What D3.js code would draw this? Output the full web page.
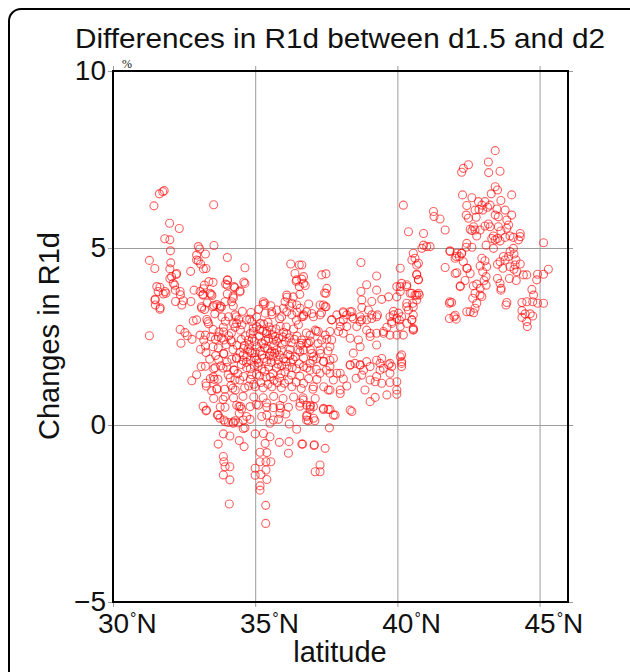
<!DOCTYPE html>
<html lang="en">
<head>
<meta charset="utf-8">
<title>Differences in R1d</title>
<script src="https://cdnjs.cloudflare.com/ajax/libs/d3/7.8.5/d3.min.js"></script>
<style>
  body { margin: 0; background: #fff; }
  svg { display: block; font-family: "Liberation Sans", Arial, Helvetica, sans-serif; }
</style>
</head>
<body>
<div id="chart"></div>
<script>
// chart text and ticks
const titleText = "Differences in R1d between d1.5 and d2";
const xLabel = "latitude";
const yLabel = "Changes in R1d";
const unitLabel = "%";
const latTicks = [30, 35, 40, 45];
const valTicks = [-5, 0, 5, 10];
const valTickLabels = ["\u22125", "0", "5", "10"];

// points: [latitude, change]
// south-west group, above ~2.5
const southPts = [
  [31.80,6.62],[31.75,6.59],[31.63,6.53],[31.44,6.19],[33.54,6.22],[31.99,5.70],[32.33,5.55],[31.82,5.26],
  [32.00,5.23],[33.55,5.07],[33.05,4.97],[32.02,4.92],[31.28,4.65],[32.94,4.80],[33.25,4.83],[34.02,4.73],
  [33.00,4.64],[31.47,4.42],[32.03,4.58],[32.00,4.41],[33.08,4.55],[32.73,4.34],[33.18,4.41],[33.27,4.42],
  [34.64,4.44],[32.22,4.25],[32.00,4.14],[33.37,4.05],[34.02,4.09],[34.64,4.00],[32.17,3.95],[34.02,3.95],
  [31.65,3.89],[34.25,3.91],[32.85,3.81],[33.18,3.85],[32.19,3.81],[34.47,3.79],[31.77,3.70],[31.86,3.72],
  [32.37,3.68],[33.16,3.67],[33.45,3.69],[34.02,3.70],[34.23,3.59],[31.48,3.53],[32.20,3.49],[32.47,3.51],
  [32.74,3.49],[33.31,3.45],[33.65,3.40],[31.49,3.39],[31.66,3.31],[32.42,3.39],[33.11,3.34],[33.51,3.34],
  [33.81,3.34],[34.23,3.36],[35.34,3.44],[33.00,5.04],[32.94,4.66],[32.06,4.19],[32.24,4.28],[31.54,3.91],
  [31.83,3.77],[32.12,4.00],[32.36,3.77],[33.06,3.77],[33.41,3.72],[33.12,3.30],[33.76,3.30],[33.94,3.48],
  [34.06,3.06],[34.29,3.11],[34.35,2.87],[34.70,2.97],[34.03,4.10],[34.17,3.48],[31.28,2.52],[31.59,3.77],
  [31.48,3.55],[31.65,3.27],[32.36,2.70],[32.39,2.31],[32.53,2.61],[32.61,2.52],[32.78,2.42],[32.82,2.94],
  [32.94,2.97],[33.06,2.54],[33.33,2.92],[33.08,2.14],[33.44,2.49],[33.70,2.49],[33.88,2.76],[34.33,3.06],
  [34.29,2.76],[34.14,2.40],[33.90,2.40]
];

// south-west group, lower part
const lowPts = [
  [33.10,1.65],[32.94,1.42],[32.77,1.25],[33.27,2.05],[33.70,2.18],[33.90,2.01],[33.53,1.36],[33.56,1.29],
  [33.59,1.62],[33.27,1.18],[33.47,0.97],[33.65,1.01],[33.29,0.42],[33.67,0.28],[33.90,0.14],[34.00,1.63],
  [34.18,1.86],[34.29,1.27],[33.94,0.80],[34.21,1.04],[34.27,1.55],[34.43,0.52],[34.44,0.33],[34.23,0.08],
  [34.06,0.07],[34.64,-0.08],[33.27,0.40],[33.70,0.28],[33.76,0.19],[33.94,0.09],[34.23,0.05],[34.58,-0.10],
  [35.00,-0.25],[35.29,-0.24],[35.52,-0.33],[33.88,-0.25],[34.11,-0.31],[33.70,-0.54],[34.44,-0.44],[34.61,-0.61],
  [35.85,-0.49],[36.19,-0.47],[36.64,-0.54],[37.08,-0.56],[37.46,-0.66],[35.35,-0.52],[36.17,-0.80],[35.17,-0.77],
  [35.41,-0.78],[33.88,-0.89],[33.90,-1.04],[33.94,-1.18],[34.11,-1.18],[33.88,-1.41],[34.11,-1.55],[35.17,-1.04],
  [35.38,-1.04],[35.55,-1.04],[35.00,-1.22],[35.38,-1.27],[35.00,-1.42],[35.41,-1.54],[35.20,-1.40],[35.17,-1.72],
  [35.17,-1.84],[37.28,-1.13],[37.11,-1.32],[37.28,-1.32],[34.09,-2.23],[35.37,-2.27],[35.37,-2.78],[38.40,0.38],
  [37.57,0.44],[37.81,0.28],[37.40,0.44],[36.81,0.24],[36.87,0.12],[37.10,0.12],[36.46,-0.12],[37.61,-0.08],
  [36.20,0.03],[35.87,0.33],[36.08,0.31],[35.64,0.14],[35.82,0.16],[34.58,0.14],[34.82,0.16],[34.70,0.24],
  [34.29,0.12],[34.40,0.06],[35.23,0.24],[35.41,0.28],[35.52,0.05],[33.94,0.50],[34.35,0.56],[34.52,0.45],
  [34.82,0.52],[35.11,0.56],[35.40,0.62],[35.64,0.49],[35.87,0.55],[36.17,0.50],[36.58,0.62],[36.81,0.56],
  [36.93,0.44],[36.82,0.28],[37.05,0.19],[36.67,-0.54],[37.07,-0.58],[37.63,0.44],[36.69,0.71],[36.93,0.52],
  [36.81,0.14],[37.05,0.52],[37.40,0.47],[37.75,0.28],[38.34,0.42]
];

// central dense group
const centralPts = [
  [33.21,3.95],[33.52,4.03],[33.96,3.98],[34.28,3.88],[34.60,4.04],[34.46,3.76],[34.22,3.64],[33.17,3.69],
  [33.48,3.66],[36.44,4.06],[36.76,3.94],[37.44,3.73],[36.12,3.61],[36.57,3.69],[36.88,3.42],[35.28,3.41],
  [35.55,3.37],[36.21,3.36],[36.47,3.19],[35.59,3.12],[35.86,3.00],[33.22,3.26],[33.54,3.38],[33.58,3.14],
  [33.77,3.36],[33.83,3.05],[33.30,2.98],[33.36,2.86],[33.95,2.93],[34.24,2.86],[34.81,2.99],[35.18,2.87],
  [35.45,2.90],[36.45,2.96],[36.70,3.07],[37.46,3.34],[37.33,3.17],[34.83,2.58],[34.93,2.74],[34.48,2.68],
  [34.16,2.60],[33.89,2.63],[33.52,2.70],[33.25,2.54],[33.19,2.40],[33.60,2.42],[33.81,2.46],[34.18,2.35],
  [34.51,2.42],[34.77,2.40],[35.16,2.70],[35.59,2.68],[35.88,2.79],[36.10,2.58],[36.47,2.51],[36.80,2.60],
  [37.15,2.65],[37.46,2.54],[35.47,2.44],[35.75,2.37],[36.06,2.35],[36.27,2.32],[36.59,2.25],[36.94,2.37],
  [37.21,2.30],[37.52,2.42],[35.06,2.21],[35.34,2.18],[35.65,2.23],[35.92,2.11],[36.23,2.13],[36.57,2.07],
  [36.94,2.13],[37.29,2.02],[37.56,2.09],[33.25,2.23],[33.52,2.21],[33.89,2.02],[34.22,2.13],[34.59,2.16],
  [34.81,2.09],[33.71,1.85],[34.01,1.78],[34.34,1.90],[34.71,1.92],[34.98,1.90],[35.30,1.88],[35.63,1.94],
  [36.00,1.88],[36.33,1.85],[36.70,1.90],[37.03,1.83],[37.41,1.80],[33.25,1.66],[33.54,1.59],[33.87,1.61],
  [34.24,1.55],[34.51,1.71],[34.83,1.59],[35.10,1.66],[35.47,1.64],[35.75,1.61],[36.12,1.66],[36.45,1.59],
  [36.82,1.61],[37.15,1.57],[37.50,1.55],[33.42,1.31],[33.69,1.29],[34.12,1.33],[34.46,1.27],[34.83,1.29],
  [35.16,1.38],[35.53,1.36],[35.86,1.33],[36.18,1.27],[36.57,1.38],[36.88,1.31],[37.17,1.29],[33.28,1.10],
  [33.66,1.03],[33.93,1.01],[34.30,0.99],[34.63,1.05],[35.00,1.08],[35.28,1.05],[35.59,1.08],[35.92,1.05],
  [36.29,1.08],[36.62,1.03],[37.03,1.01],[37.41,1.08],[33.54,0.75],[33.87,0.72],[34.24,0.77],[34.57,0.81],
  [34.95,0.79],[35.28,0.77],[35.65,0.81],[35.98,0.75],[36.35,0.79],[36.68,0.77],[37.11,0.75],[33.17,0.53],
  [33.77,0.51],[34.48,0.53],[35.04,0.58],[35.41,0.51],[35.88,0.48],[36.57,0.53],[36.94,0.56],
  [34.90,2.45],[35.00,2.05],[35.12,1.75],[35.22,2.32],[35.33,1.52],[35.40,2.58],[35.50,1.95],[35.62,1.45],
  [35.70,2.50],[35.80,1.72],[35.95,2.28],[36.05,1.50],[36.15,2.00],[36.30,1.62],[36.38,2.42],[34.70,1.62],
  [34.62,2.25],[34.88,1.42],[35.20,1.20],[35.45,1.15],[35.78,1.20],[36.00,2.62],[35.30,2.85],[35.05,3.05],
  [34.95,1.15],[35.58,2.08],[35.85,1.98],[36.25,1.78],[36.50,2.12],[34.75,2.15],[34.88,2.92],[35.05,2.78],
  [34.94,2.64],[35.41,2.64],[35.64,2.40],[35.76,2.12],[35.52,2.03],[35.23,1.98],[34.88,2.03],[34.58,1.98],
  [34.35,1.88],[35.05,1.84],[35.41,1.79],[35.81,1.84],[36.25,4.55],[36.55,4.52],[36.40,4.28],[36.46,4.10],
  [36.55,3.91],[36.64,4.12],[36.11,3.67],[36.34,3.62],[36.29,3.44],[36.46,3.39],[36.05,3.48],[35.29,3.48],
  [35.58,3.20],[35.35,3.16],[35.76,3.25],[35.99,3.30],[36.11,3.20],[36.58,3.30],[36.81,3.20],[37.05,3.06],
  [36.64,3.06],[36.29,3.11],[35.93,3.06],
  [34.53,2.83],[34.66,2.52],[34.79,2.27],[34.97,2.36],[35.14,2.51],[35.27,2.66],[35.36,2.39],[35.49,2.77],
  [35.61,2.55],[35.73,2.71],[35.83,2.45],[35.97,2.49],[36.09,2.77],[36.19,2.46],[36.35,2.71],[36.52,2.83],
  [36.63,2.40],[34.46,2.05],[34.57,1.82],[34.69,1.77],[34.84,1.83],[34.97,1.68],[35.18,2.08],[35.29,2.29],
  [35.44,2.15],[35.57,1.77],[35.69,2.03],[35.93,1.68],[36.08,1.79],[36.22,1.96],[36.41,1.93],[36.55,1.73],
  [34.39,1.45],[34.59,1.37],[34.77,1.10],[35.05,1.43],[35.24,1.58],[35.38,1.35],[35.66,1.26],[35.91,1.45],
  [36.03,1.18],[36.27,1.41],[36.44,1.21],[33.98,2.27],[34.07,2.52],[34.36,2.25],[33.73,2.63],[34.42,2.98],
  [34.55,3.21],[34.85,3.18],[35.12,3.27],[33.61,1.96],[33.79,1.67],[34.05,1.42],[33.40,1.86],[34.15,1.12]
];

// eastern group, 36.5 to 41.5
const eastPts = [
  [38.72,4.59],[40.10,4.43],[40.51,4.66],[40.68,4.52],[37.34,4.24],[37.49,4.27],[39.27,4.21],[36.64,4.52],
  [36.70,4.00],[37.52,3.86],[37.49,3.72],[38.92,3.96],[38.72,3.77],[39.27,3.81],[39.45,3.55],[39.69,3.62],
  [39.98,3.62],[40.10,3.91],[40.33,3.96],[40.45,3.72],[40.62,3.67],[39.10,3.49],[38.75,3.32],[38.98,3.25],
  [39.10,3.11],[39.30,3.11],[40.33,3.34],[40.56,3.11],[39.86,3.11],[40.07,2.97],[39.80,2.92],[39.63,2.76],
  [39.51,2.59],[39.74,2.54],[39.98,2.54],[40.21,2.54],[40.56,2.73],[40.51,2.97],[37.40,3.39],[37.28,3.11],
  [37.69,2.97],[38.10,3.17],[38.40,3.20],[38.45,3.01],[38.75,2.97],[37.99,2.92],[38.22,2.78],[37.93,2.64],
  [37.63,2.64],[37.22,2.64],[37.11,2.68],[36.93,2.54],[37.34,2.40],[37.69,2.40],[38.10,2.59],[38.34,2.45],
  [38.63,2.40],[38.92,2.68],[39.04,2.50],[38.69,2.21],[39.27,2.26],[39.45,1.88],[39.69,1.70],[40.10,1.93],
  [40.15,1.74],[38.45,2.03],[38.34,1.69],[38.69,1.69],[39.04,1.65],[39.39,1.55],[39.74,1.46],[37.63,2.21],
  [37.75,1.88],[37.63,1.65],[37.99,1.46],[37.28,2.12],[37.05,1.93],[36.93,1.74],[36.81,2.31],[36.70,2.12],
  [37.40,1.79],[38.75,1.41],[39.27,1.37],[39.04,0.66],[39.22,0.78],[38.86,0.99],[39.63,0.85],[39.98,0.87],
  [39.98,0.99],[39.98,1.22],[39.74,1.20],[39.45,1.18],[39.22,1.22],[39.04,1.27],[38.55,1.32],[38.22,1.10],
  [37.99,0.89],[37.57,0.99],[38.10,1.30],[39.80,1.65],[40.15,1.65],[40.15,1.79],[40.15,1.98],[39.39,1.74],
  [38.81,1.55],[38.34,1.70],[38.51,1.74],[36.70,3.11],[36.99,3.15],[37.69,2.97],[37.87,3.11],[37.99,2.78],
  [38.10,2.97],[38.22,3.11],[38.34,3.20],[38.57,2.78],[38.69,2.92],[38.92,2.97],[39.27,3.06],[39.04,2.59],
  [39.27,2.59],[39.51,2.64],[39.74,3.06],[39.80,2.87],[39.98,3.01],[40.10,2.78],[40.33,2.87],[40.56,2.68],
  [36.64,2.31],[36.87,2.31],[36.99,2.02],[37.16,1.88],[37.63,1.83],[36.70,1.65],[36.93,1.55],[37.28,1.46],
  [37.63,1.46],[37.87,1.46],[37.75,1.27],[38.69,1.70],[38.92,1.79],[39.27,1.83],[39.51,1.60],[39.74,1.74],
  [36.70,1.18],[37.05,1.08],[37.63,0.99],[37.99,0.99],[40.21,6.21],[40.39,5.46],[40.92,5.41],[41.27,6.03],
  [41.29,5.89],[41.50,5.82],[41.68,5.51],[36.70,4.19],[37.28,3.39],[37.49,3.34],[40.56,4.85],[40.62,4.71],
  [40.74,4.57],[40.92,5.08],[41.03,5.04],[41.15,5.04],[40.86,4.99],[40.68,4.24],[40.74,4.10],[38.75,3.53],
  [38.69,3.06],[39.10,3.01],[38.10,3.20],[38.40,3.06],[40.68,3.53],[40.74,3.72],[40.33,3.44],[40.56,3.34],
  [40.04,3.16],[39.86,3.21],[40.15,3.06],[40.39,3.25],[39.98,3.91],[40.15,4.00],[40.33,3.91],[40.10,3.77],
  [40.51,2.97],[40.56,2.70],[40.54,3.44],[40.51,3.72],[40.68,3.67],[40.77,3.67],[40.68,4.26],[40.74,4.11]
];

// northern group, 41.5 to 45.5
const northPts = [
  [43.44,7.75],[43.20,7.43],[43.61,7.17],[43.21,7.13],[42.50,7.35],[42.32,7.25],[42.26,7.14],[42.29,6.50],
  [42.62,6.42],[43.44,6.73],[43.52,6.64],[43.30,6.53],[43.64,6.34],[44.02,6.50],[42.44,6.20],[42.85,6.31],
  [42.97,6.21],[43.08,6.31],[43.17,6.15],[43.26,6.21],[43.00,6.07],[42.87,6.09],[42.73,6.07],[43.50,6.10],
  [43.79,6.07],[44.02,5.93],[43.85,5.79],[43.55,5.88],[43.44,5.93],[42.42,5.93],[42.50,5.84],[42.77,5.87],
  [43.20,5.68],[43.26,5.60],[43.08,5.62],[42.68,5.60],[42.56,5.53],[42.62,5.49],[42.73,5.51],[42.79,5.34],
  [42.91,5.51],[43.55,5.60],[43.64,5.48],[43.85,5.56],[43.91,5.65],[43.38,5.34],[43.52,5.27],[43.44,5.23],
  [43.32,5.27],[43.61,5.20],[43.79,5.30],[43.96,5.34],[44.08,5.30],[44.26,5.23],[44.32,5.41],[44.32,5.32],
  [42.44,5.13],[42.62,5.02],[42.42,5.02],[43.12,5.08],[43.38,4.99],[41.85,4.92],[42.09,4.85],[42.26,4.85],
  [42.18,4.76],[42.03,4.71],[42.97,4.71],[43.08,4.64],[42.91,4.49],[43.14,4.47],[43.00,4.33],[43.61,4.61],
  [43.79,4.66],[43.73,4.76],[43.91,4.76],[43.96,4.90],[44.08,4.99],[44.10,4.83],[44.17,4.66],[43.52,4.54],
  [43.71,4.43],[43.96,4.47],[44.14,4.52],[44.20,4.33],[44.32,4.55],[44.10,4.40],[42.32,4.61],[42.46,4.43],
  [42.09,4.30],[41.68,4.45],[43.12,4.19],[43.05,4.08],[43.52,4.14],[43.94,4.14],[44.18,4.08],[44.43,4.24],
  [44.55,4.24],[42.38,4.08],[42.21,3.93],[42.67,3.93],[42.79,3.98],[42.91,3.86],[43.12,3.95],[43.61,4.00],
  [43.65,3.86],[43.64,3.81],[44.73,3.83],[44.79,3.67],[44.93,4.26],[44.90,4.10],[45.14,4.26],[45.31,4.40],
  [45.14,5.15],[42.73,3.72],[42.91,3.67],[42.65,3.58],[42.97,3.63],[42.79,3.44],[42.73,3.30],[42.56,3.20],
  [42.68,3.17],[41.85,3.48],[41.83,3.44],[41.99,3.06],[41.83,3.01],[42.07,2.99],[43.85,3.46],[43.82,3.39],
  [44.38,3.46],[44.55,3.48],[44.76,3.48],[44.93,3.44],[45.14,3.44],[44.38,3.23],[44.49,3.14],[44.67,3.14],
  [44.38,3.04],[44.55,2.92],[44.57,2.78],[44.76,3.08],[41.85,4.90],[42.07,4.76],[42.03,4.28],[42.26,4.85],
  [42.44,4.43],[42.21,3.91],[42.56,4.28],[41.91,3.46],[42.44,3.20],[42.03,3.10]
];

const width = 630;
const height = 672;
const fontMain = "Liberation Sans, Arial, sans-serif";

const svg = d3.select("#chart")
  .append("svg")
  .attr("width", width)
  .attr("height", height);

// outer rounded border (runs off the right and bottom)
svg.append("rect")
  .attr("x", 9).attr("y", 9)
  .attr("width", 700).attr("height", 700)
  .attr("rx", 12)
  .attr("fill", "none")
  .attr("stroke", "#000")
  .attr("stroke-width", 2);

const x = d3.scaleLinear().domain([30, 46]).range([113, 568]);
const y = d3.scaleLinear().domain([-5, 10]).range([602, 71]);

const plotW = x(46) - x(30);
const plotH = y(-5) - y(10);

// vertical grid + x labels
const xAxis = d3.axisBottom(x)
  .tickValues(latTicks)
  .tickSize(-(plotH + 10))
  .tickPadding(6)
  .tickFormat(d => d);

const gx = svg.append("g")
  .attr("transform", `translate(0,${y(-5) + 5})`)
  .call(xAxis);
gx.select(".domain").remove();
gx.selectAll(".tick line").attr("stroke", "#9c9c9c").attr("stroke-width", 1);
gx.selectAll(".tick text")
  .attr("fill", "#111")
  .attr("font-size", 28)
  .attr("font-family", fontMain)
  .each(function(d) {
    const t = d3.select(this);
    t.text(null).attr("text-anchor", "start");
    t.append("tspan").text(d);
    t.append("tspan").attr("font-size", 16).attr("dy", -9).attr("dx", 1).text("\u00b0");
    t.append("tspan").attr("dy", 9).text("N");
    const w = this.getSubStringLength(0, String(d).length);
    t.attr("x", -w / 2);
  });

// horizontal grid + y labels
const yAxis = d3.axisLeft(y)
  .tickValues(valTicks)
  .tickSize(-(plotW + 10))
  .tickPadding(2)
  .tickFormat((d, i) => valTickLabels[i]);

const gy = svg.append("g")
  .attr("transform", `translate(${x(30) - 5},0)`)
  .call(yAxis);
gy.select(".domain").remove();
gy.selectAll(".tick line").attr("stroke", "#9c9c9c").attr("stroke-width", 1);
gy.selectAll(".tick text")
  .attr("fill", "#111")
  .attr("font-size", 28)
  .attr("font-family", fontMain);

// points
const allPts = southPts.concat(lowPts, centralPts, eastPts, northPts);
svg.append("g")
  .selectAll("circle")
  .data(allPts)
  .join("circle")
  .attr("cx", d => x(d[0]))
  .attr("cy", d => y(d[1]))
  .attr("r", 4)
  .attr("fill", "none")
  .attr("stroke", "#ff0000")
  .attr("stroke-opacity", 0.62)
  .attr("stroke-width", 1.1);

// plot frame
svg.append("rect")
  .attr("x", x(30)).attr("y", y(10))
  .attr("width", plotW).attr("height", plotH)
  .attr("fill", "none")
  .attr("stroke", "#000")
  .attr("stroke-width", 2);

// texts
svg.append("text")
  .attr("x", 340).attr("y", 48)
  .attr("text-anchor", "middle")
  .attr("font-size", 28)
  .attr("fill", "#111")
  .attr("textLength", 530)
  .attr("lengthAdjust", "spacingAndGlyphs")
  .text(titleText);

svg.append("text")
  .attr("x", 122).attr("y", 68)
  .attr("font-size", 12)
  .attr("font-family", "Liberation Serif, serif")
  .attr("fill", "#111")
  .text(unitLabel);

svg.append("text")
  .attr("x", 340).attr("y", 662)
  .attr("text-anchor", "middle")
  .attr("font-size", 29)
  .attr("fill", "#111")
  .text(xLabel);

svg.append("text")
  .attr("transform", "translate(59,336) rotate(-90)")
  .attr("text-anchor", "middle")
  .attr("font-size", 29)
  .attr("fill", "#111")
  .text(yLabel);
</script>
</body>
</html>
